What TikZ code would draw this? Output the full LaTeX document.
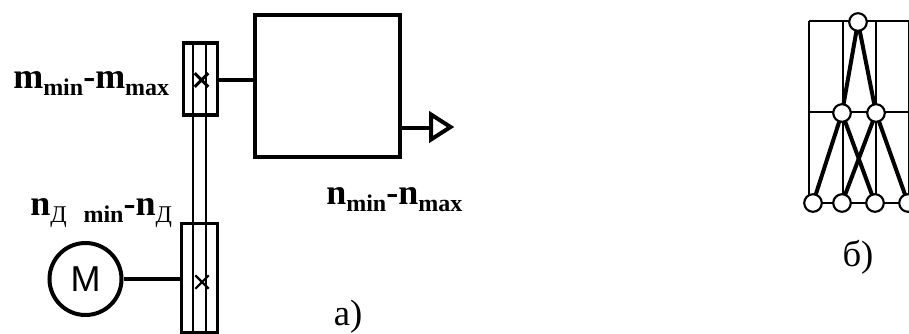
\documentclass[tikz,border=0pt]{standalone}
\usepackage{fontspec}
\setmainfont{Liberation Serif}
\setsansfont{Liberation Sans}
\usetikzlibrary{positioning,shapes.misc}
\newcommand{\lowidx}[1]{\raisebox{-0.2em}{\fontsize{18}{18}\selectfont #1}}
\tikzset{
  heavy/.style={line width=3pt},
  thin rail/.style={line width=1.3pt},
  grid line/.style={line width=1.6pt},
  clutch/.style={draw,line width=2.6pt,inner sep=0pt},
  joint/.style={draw,circle,fill=white,line width=1.6pt,inner sep=0pt,minimum size=13.2pt},
  speedlabel/.style={font=\fontsize{27}{27}\selectfont\bfseries,inner sep=0pt,anchor=base west},
  caption/.style={font=\fontsize{27.5}{27.5}\selectfont,inner sep=0pt}
}
\begin{document}
\begin{tikzpicture}[x=0.75pt,y=-0.75pt]
\useasboundingbox (0,0) rectangle (909,333);
% a)
\node[clutch,minimum width=25.5pt,minimum height=54pt] (c1) at (200.5,79){};
\node[clutch,minimum width=27pt,minimum height=82pt] (c2) at (199.5,278){};
\node[draw,line width=3pt,minimum width=109pt,minimum height=107pt,inner sep=0pt] (r) at (327.5,86){};
\node[draw,circle,line width=3pt,minimum width=54pt,inner sep=0pt,font=\fontsize{27}{27}\selectfont\sffamily] (m) at (85.5,279){M};
\coordinate (s1t) at (193,42);\coordinate (s1b) at (193,333);
\coordinate (s2t) at (206,42);\coordinate (s2b) at (206,333);
\draw[thin rail](s1t)--(s1b);\draw[thin rail](s2t)--(s2b);
\node[draw,cross out,line width=2.2pt,inner sep=0pt,minimum size=8pt] (x1) at (201.5,80){};
\node[draw,cross out,line width=1.6pt,inner sep=0pt,minimum size=8.5pt] (x2) at (202,282){};
\draw[heavy](c1.east|-x1)--(r.west|-x1);
\draw[line width=2.6pt](m)--(c2.west|-m);
\coordinate (o) at (431,128);
\draw[heavy](r.east|-o)--(o);
\draw[heavy,line join=miter](431,114.5)--(450.5,127)--(431,139.5)--cycle;
\node[speedlabel] (lm) at (13,88){m\lowidx{min}-m\lowidx{max}};
\node[speedlabel] (ln) at (30,215){n\lowidx{\mdseries Д}\hspace{0.47em}\lowidx{min}-n\lowidx{\mdseries Д}};
\node[speedlabel] (lo) at (326,204){n\lowidx{min}-n\lowidx{max}};
\node[caption] (a) at (348,316.5){а)};
% б)
\coordinate (g1) at (809,21);\coordinate (g2) at (843,21);\coordinate (g3) at (876,21);\coordinate (g4) at (909,21);
\coordinate (h1) at (809,203);\coordinate (h2) at (843,203);\coordinate (h3) at (876,203);\coordinate (h4) at (909,203);
\draw[grid line](g1)--(g4);\draw[grid line](g1)--(h1);\draw[grid line](g2)--(h2);\draw[grid line](g3)--(h3);\draw[grid line](g4)--(h4);
\coordinate (w1) at (809,112);\coordinate (w2) at (909,112);
\draw[grid line](w1)--(w2);\draw[grid line](h1)--(h4);
\coordinate (tc) at (858,22);
\coordinate (pc1) at (842,113);\coordinate (pc2) at (876,113);
\coordinate (qc1) at (813,203);\coordinate (qc2) at (842,203);\coordinate (qc3) at (875,203);\coordinate (qc4) at (908,203);
\draw[heavy](tc)--(pc1);\draw[heavy](tc)--(pc2);
\draw[heavy](pc1)--(qc1);\draw[heavy](pc1)--(qc3);\draw[heavy](pc2)--(qc2);\draw[heavy](pc2)--(qc4);
\node[joint] (t) at (tc){};
\node[joint] (p1) at (pc1){};\node[joint] (p2) at (pc2){};
\node[joint] (q1) at (qc1){};\node[joint] (q2) at (qc2){};\node[joint] (q3) at (qc3){};\node[joint] (q4) at (qc4){};
\node[caption] (b) at (858,257){б)};
\end{tikzpicture}
\end{document}
